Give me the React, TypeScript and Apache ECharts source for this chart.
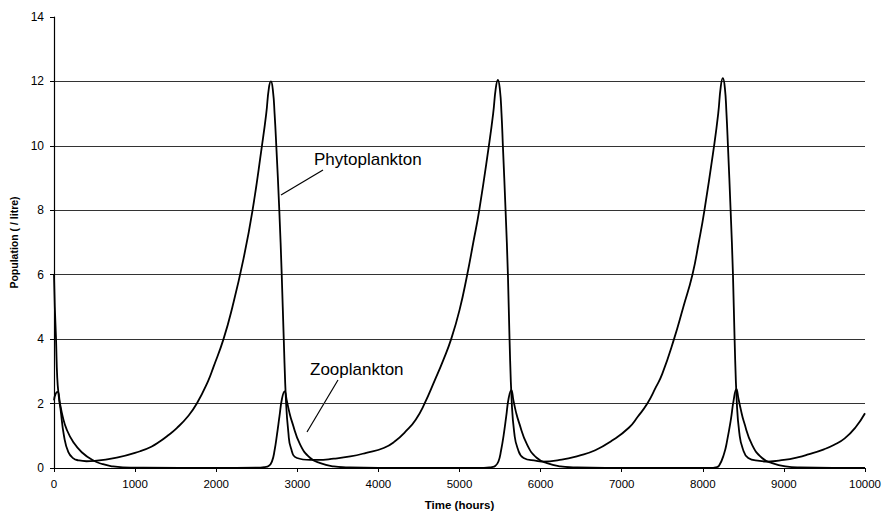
import React, { useEffect, useRef } from "react";
import * as echarts from "echarts";

const xTickValues = [0, 1000, 2000, 3000, 4000, 5000, 6000, 7000, 8000, 9000, 10000];
const yTickValues = [0, 2, 4, 6, 8, 10, 12, 14];

// [time (hours), population per litre]
const phytoplankton: [number, number][] = [
  [0, 6.0], [10, 5.0], [25, 4.0], [40, 2.8], [60, 2.2], [82, 1.8], [123, 1.0], [177, 0.49], [239, 0.3],
  [300, 0.24], [400, 0.21], [500, 0.22], [774, 0.32], [1062, 0.52], [1200, 0.66], [1309, 0.83], [1400, 1.0],
  [1514, 1.24], [1650, 1.6], [1761, 2.0], [1900, 2.7], [1967, 3.14], [2090, 4.0], [2200, 5.0], [2337, 6.5],
  [2448, 8.0], [2564, 10.0], [2617, 11.0], [2650, 11.8], [2675, 12.0], [2700, 11.7], [2720, 11.0], [2741, 10.0],
  [2778, 8.0], [2808, 6.0], [2833, 4.0], [2862, 2.0], [2890, 1.1], [2921, 0.62], [2996, 0.31], [3160, 0.25],
  [3250, 0.25], [3450, 0.29], [3654, 0.36], [3850, 0.47], [4065, 0.62], [4200, 0.82], [4354, 1.18], [4460, 1.5],
  [4560, 1.95], [4700, 2.75], [4800, 3.35], [4897, 4.0], [5000, 4.9], [5095, 6.0], [5170, 7.0], [5243, 8.0],
  [5362, 10.0], [5415, 11.0], [5448, 11.8], [5473, 12.05], [5498, 11.75], [5518, 11.0], [5535, 10.0],
  [5568, 8.0], [5597, 6.0], [5617, 4.0], [5645, 2.0], [5675, 1.1], [5715, 0.62], [5790, 0.31], [5950, 0.22],
  [6012, 0.2], [6261, 0.26], [6467, 0.38], [6674, 0.55], [6881, 0.85], [7088, 1.25], [7200, 1.6], [7316, 2.0],
  [7420, 2.5], [7500, 2.92], [7645, 4.0], [7760, 5.0], [7872, 6.0], [7950, 7.0], [8020, 8.0], [8139, 10.0],
  [8190, 11.0], [8222, 11.85], [8247, 12.1], [8272, 11.8], [8292, 11.0], [8310, 10.0], [8343, 8.0], [8372, 6.0],
  [8392, 4.0], [8420, 2.0], [8450, 1.1], [8490, 0.62], [8560, 0.31], [8700, 0.22], [8800, 0.2], [9000, 0.25],
  [9169, 0.33], [9300, 0.42], [9494, 0.58], [9621, 0.72], [9750, 0.92], [9880, 1.25], [10000, 1.7],
];

const zooplankton: [number, number][] = [
  [0, 2.1], [20, 2.3], [45, 2.36], [74, 2.0], [107, 1.6], [156, 1.2], [239, 0.8], [342, 0.49], [486, 0.23],
  [600, 0.12], [700, 0.06], [850, 0.02], [1100, 0.01], [2000, 0.0], [2500, 0.01], [2600, 0.03], [2646, 0.06],
  [2687, 0.2], [2720, 0.55], [2749, 1.03], [2780, 1.6], [2811, 2.15], [2843, 2.38], [2870, 2.1], [2900, 1.75],
  [2934, 1.44], [3037, 0.72], [3160, 0.31], [3284, 0.15], [3449, 0.05], [3600, 0.02], [4000, 0.0], [5300, 0.0],
  [5400, 0.03], [5440, 0.06], [5480, 0.2], [5513, 0.55], [5545, 1.03], [5576, 1.6], [5605, 2.15], [5638, 2.42],
  [5665, 2.1], [5695, 1.75], [5730, 1.44], [5835, 0.72], [5955, 0.31], [6080, 0.15], [6245, 0.05], [6400, 0.02],
  [6800, 0.0], [8100, 0.0], [8158, 0.02], [8200, 0.07], [8263, 0.45], [8300, 0.85], [8346, 1.5], [8380, 2.1],
  [8414, 2.45], [8440, 2.15], [8470, 1.8], [8505, 1.45], [8608, 0.72], [8731, 0.31], [8855, 0.15], [9020, 0.05],
  [9200, 0.02], [10000, 0.0],
];

const seriesNames = ["Phytoplankton", "Zooplankton"];
const xTitle = "Time (hours)";
const yTitle = "Population ( / litre)";

const FONT = "'Liberation Sans', Arial, sans-serif";

export default function App() {
  const ref = useRef<HTMLDivElement>(null);

  useEffect(() => {
    if (!ref.current) return;
    const chart = echarts.init(ref.current, null, { renderer: "svg" });
    const lineStyle = { color: "#000", width: 1.8 };
    chart.setOption({
      animation: false,
      backgroundColor: "#fff",
      textStyle: { fontFamily: FONT, color: "#000" },
      grid: { left: 54, right: 19, top: 17, bottom: 44, containLabel: false },
      xAxis: {
        type: "value",
        min: xTickValues[0],
        max: xTickValues[xTickValues.length - 1],
        interval: 1000,
        name: xTitle,
        nameLocation: "middle",
        nameGap: 31,
        nameTextStyle: { fontFamily: FONT, fontWeight: "bold", fontSize: 11.5, color: "#000" },
        axisLine: { show: true, lineStyle: { color: "#000", width: 1.2 } },
        axisTick: { show: true, inside: false, length: 4, lineStyle: { color: "#000" } },
        axisLabel: {
          fontFamily: FONT,
          fontSize: 11.5,
          color: "#000",
          margin: 10,
          formatter: (v: number) => String(v),
        },
        splitLine: { show: false },
      },
      yAxis: {
        type: "value",
        min: yTickValues[0],
        max: yTickValues[yTickValues.length - 1],
        interval: 2,
        name: yTitle,
        nameLocation: "middle",
        nameGap: 34,
        nameRotate: 90,
        nameTextStyle: { fontFamily: FONT, fontWeight: "bold", fontSize: 10.5, color: "#000" },
        axisLine: { show: true, lineStyle: { color: "#000", width: 1.2 } },
        axisTick: { show: true, inside: false, length: 4, lineStyle: { color: "#000" } },
        axisLabel: { fontFamily: FONT, fontSize: 12, color: "#000", margin: 10, formatter: (v: number) => String(v) },
        splitLine: { show: true, showMinLine: false, showMaxLine: false, lineStyle: { color: "#333", width: 1 } },
      },
      series: [
        {
          name: seriesNames[0],
          type: "line",
          data: phytoplankton,
          showSymbol: false,
          smooth: 0.5,
          lineStyle,
        },
        {
          name: seriesNames[1],
          type: "line",
          data: zooplankton,
          showSymbol: false,
          smooth: 0.5,
          lineStyle,
        },
      ],
      graphic: [
        {
          type: "text",
          left: 314,
          top: 151,
          style: { text: seriesNames[0], fontFamily: FONT, fontSize: 17, fill: "#000" },
        },
        {
          type: "line",
          shape: { x1: 323, y1: 170, x2: 281, y2: 195 },
          style: { stroke: "#000", lineWidth: 1.2 },
        },
        {
          type: "text",
          left: 310,
          top: 361,
          style: { text: seriesNames[1], fontFamily: FONT, fontSize: 17, fill: "#000" },
        },
        {
          type: "line",
          shape: { x1: 338, y1: 380, x2: 307, y2: 432 },
          style: { stroke: "#000", lineWidth: 1.2 },
        },
      ],
    });
    return () => chart.dispose();
  }, []);

  return (
    <div
      ref={ref}
      style={{ position: "fixed", left: 0, top: 0, width: 884, height: 516, background: "#fff" }}
    />
  );
}
